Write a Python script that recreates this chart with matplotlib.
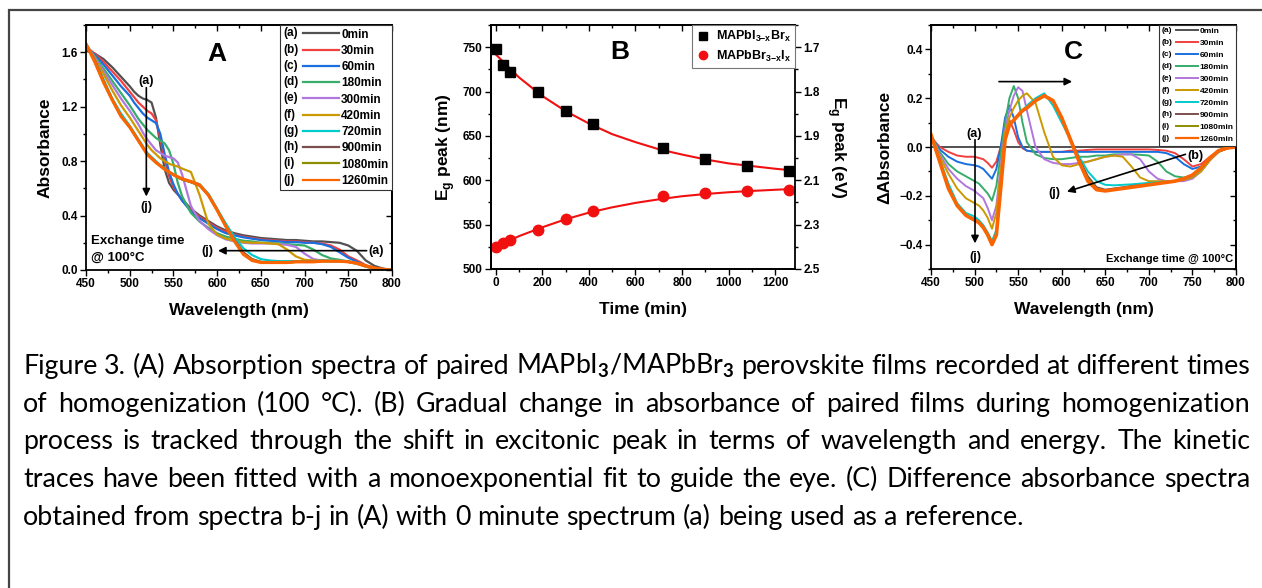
import numpy as np
import matplotlib
matplotlib.use("Agg")
import matplotlib.pyplot as plt
from matplotlib.legend_handler import HandlerLine2D
from matplotlib.lines import Line2D
from matplotlib.text import Text
from matplotlib.patches import Rectangle
from matplotlib.ticker import MultipleLocator

plt.rcParams['font.family'] = ['Liberation Sans', 'DejaVu Sans']
plt.rcParams['font.weight'] = 'bold'
plt.rcParams['axes.labelweight'] = 'bold'
plt.rcParams['mathtext.fontset'] = 'custom'
plt.rcParams['mathtext.rm'] = 'Lato'
plt.rcParams['mathtext.bf'] = 'Liberation Sans:bold'

# ---------------- data ----------------
wl = [450, 460, 470, 480, 490, 500, 505, 510, 515, 520, 525, 530, 535, 540, 545, 550, 555, 560,
      570, 580, 590, 600, 610, 620, 630, 640, 650, 660, 670, 680, 690, 700, 710, 720, 730, 740,
      750, 760, 770, 780, 790, 800]

# panel A: absorbance
abs_a = [1.61, 1.59, 1.55, 1.49, 1.42, 1.35, 1.31, 1.28, 1.26, 1.25, 1.23, 1.12, 0.92, 0.74, 0.64, 0.59, 0.555, 0.52,
         0.45, 0.40, 0.36, 0.32, 0.29, 0.27, 0.255, 0.245, 0.235, 0.23, 0.225, 0.22, 0.22, 0.215, 0.21, 0.21, 0.205, 0.20,
         0.18, 0.14, 0.07, 0.03, 0.01, 0.0]
abs_b = [1.64, 1.59, 1.53, 1.46, 1.39, 1.31, 1.27, 1.23, 1.20, 1.17, 1.15, 1.10, 0.97, 0.81, 0.69, 0.61, 0.56, 0.51,
         0.44, 0.39, 0.35, 0.31, 0.28, 0.26, 0.245, 0.235, 0.225, 0.22, 0.215, 0.21, 0.21, 0.205, 0.20, 0.195, 0.18, 0.15,
         0.10, 0.07, 0.035, 0.015, 0.005, 0.0]
abs_c = [1.64, 1.58, 1.51, 1.43, 1.35, 1.28, 1.23, 1.19, 1.15, 1.12, 1.10, 1.08, 1.00, 0.85, 0.72, 0.63, 0.56, 0.51,
         0.43, 0.38, 0.34, 0.30, 0.27, 0.255, 0.24, 0.23, 0.22, 0.215, 0.21, 0.205, 0.205, 0.20, 0.20, 0.19, 0.17, 0.13,
         0.09, 0.06, 0.03, 0.012, 0.004, 0.0]
abs_d = [1.65, 1.57, 1.48, 1.39, 1.30, 1.21, 1.16, 1.11, 1.07, 1.03, 1.00, 0.97, 0.95, 0.93, 0.88, 0.78, 0.64, 0.54,
         0.42, 0.355, 0.31, 0.27, 0.245, 0.23, 0.215, 0.21, 0.20, 0.20, 0.195, 0.19, 0.185, 0.18, 0.15, 0.11, 0.085, 0.075,
         0.06, 0.05, 0.025, 0.01, 0.003, 0.0]
abs_e = [1.66, 1.56, 1.46, 1.36, 1.26, 1.17, 1.12, 1.07, 1.01, 0.96, 0.92, 0.88, 0.86, 0.84, 0.83, 0.82, 0.79, 0.70,
         0.47, 0.36, 0.30, 0.255, 0.225, 0.21, 0.20, 0.195, 0.195, 0.195, 0.19, 0.185, 0.17, 0.12, 0.08, 0.07, 0.065, 0.065,
         0.06, 0.045, 0.025, 0.01, 0.003, 0.0]
abs_f = [1.66, 1.55, 1.44, 1.32, 1.21, 1.12, 1.07, 1.02, 0.97, 0.92, 0.88, 0.85, 0.82, 0.80, 0.78, 0.77, 0.76, 0.745,
         0.72, 0.55, 0.34, 0.26, 0.23, 0.215, 0.205, 0.20, 0.20, 0.195, 0.19, 0.15, 0.10, 0.075, 0.07, 0.07, 0.065, 0.065,
         0.06, 0.045, 0.025, 0.01, 0.003, 0.0]
abs_g = [1.66, 1.54, 1.40, 1.26, 1.15, 1.06, 1.01, 0.96, 0.91, 0.86, 0.83, 0.80, 0.77, 0.75, 0.72, 0.70, 0.68, 0.67,
         0.65, 0.63, 0.56, 0.45, 0.34, 0.24, 0.16, 0.11, 0.08, 0.07, 0.065, 0.065, 0.065, 0.065, 0.065, 0.07, 0.07, 0.07,
         0.065, 0.05, 0.03, 0.015, 0.005, 0.0]
abs_h = [1.66, 1.54, 1.39, 1.25, 1.13, 1.05, 1.00, 0.95, 0.90, 0.855, 0.82, 0.79, 0.765, 0.74, 0.72, 0.70, 0.68, 0.665,
         0.645, 0.62, 0.55, 0.44, 0.32, 0.22, 0.13, 0.08, 0.06, 0.055, 0.055, 0.055, 0.06, 0.06, 0.06, 0.065, 0.065, 0.065,
         0.06, 0.05, 0.03, 0.015, 0.005, 0.0]
abs_i = [1.66, 1.53, 1.38, 1.25, 1.13, 1.05, 1.00, 0.95, 0.90, 0.85, 0.82, 0.79, 0.765, 0.74, 0.72, 0.70, 0.68, 0.665,
         0.645, 0.62, 0.55, 0.44, 0.32, 0.215, 0.12, 0.075, 0.058, 0.055, 0.055, 0.055, 0.06, 0.06, 0.06, 0.065, 0.065, 0.065,
         0.06, 0.05, 0.03, 0.015, 0.005, 0.0]
abs_j = [1.66, 1.53, 1.38, 1.25, 1.13, 1.05, 1.00, 0.95, 0.90, 0.85, 0.82, 0.79, 0.765, 0.74, 0.72, 0.70, 0.685, 0.67,
         0.65, 0.625, 0.55, 0.44, 0.32, 0.21, 0.115, 0.07, 0.055, 0.055, 0.055, 0.055, 0.06, 0.06, 0.06, 0.065, 0.065, 0.065,
         0.06, 0.05, 0.03, 0.015, 0.005, 0.0]

# panel C: difference absorbance (reference = 0 min)
diff_a = [0.0] * len(wl)
diff_b = [0.04, 0.0, -0.02, -0.035, -0.04, -0.04, -0.045, -0.05, -0.065, -0.085, -0.06, 0.0, 0.08, 0.11, 0.07, 0.02, -0.005, -0.015,
          -0.02, -0.02, -0.02, -0.02, -0.015, -0.015, -0.012, -0.01, -0.01, -0.01, -0.01, -0.01, -0.01, -0.01, -0.012, -0.015, -0.025, -0.05,
          -0.08, -0.07, -0.04, -0.018, -0.005, 0.0]
diff_c = [0.045, -0.01, -0.04, -0.06, -0.07, -0.075, -0.08, -0.09, -0.11, -0.13, -0.09, 0.0, 0.12, 0.17, 0.12, 0.04, 0.0, -0.015,
          -0.02, -0.02, -0.02, -0.02, -0.02, -0.02, -0.02, -0.02, -0.02, -0.02, -0.02, -0.02, -0.02, -0.02, -0.02, -0.025, -0.04, -0.07,
          -0.09, -0.08, -0.045, -0.02, -0.005, 0.0]
diff_d = [0.05, -0.02, -0.07, -0.10, -0.12, -0.14, -0.15, -0.17, -0.19, -0.22, -0.16, -0.03, 0.10, 0.20, 0.25, 0.20, 0.10, 0.02,
          -0.03, -0.045, -0.05, -0.05, -0.045, -0.04, -0.04, -0.035, -0.035, -0.03, -0.03, -0.03, -0.032, -0.035, -0.06, -0.10, -0.12, -0.125,
          -0.12, -0.09, -0.05, -0.02, -0.005, 0.0]
diff_e = [0.05, -0.03, -0.09, -0.13, -0.16, -0.18, -0.195, -0.21, -0.25, -0.30, -0.24, -0.08, 0.07, 0.15, 0.21, 0.245, 0.23, 0.15,
          0.0, -0.05, -0.065, -0.07, -0.07, -0.065, -0.06, -0.05, -0.04, -0.035, -0.03, -0.03, -0.05, -0.10, -0.13, -0.14, -0.14, -0.14,
          -0.13, -0.10, -0.055, -0.02, -0.005, 0.0]
diff_f = [0.05, -0.04, -0.11, -0.17, -0.21, -0.23, -0.24, -0.26, -0.29, -0.335, -0.27, -0.10, 0.06, 0.12, 0.16, 0.19, 0.21, 0.22,
          0.18, 0.06, -0.04, -0.075, -0.08, -0.07, -0.06, -0.05, -0.04, -0.035, -0.04, -0.08, -0.125, -0.14, -0.14, -0.14, -0.14, -0.135,
          -0.125, -0.10, -0.055, -0.02, -0.005, 0.0]
diff_g = [0.05, -0.05, -0.15, -0.23, -0.27, -0.285, -0.30, -0.32, -0.35, -0.385, -0.34, -0.15, 0.03, 0.09, 0.11, 0.13, 0.15, 0.17,
          0.20, 0.22, 0.17, 0.10, 0.03, -0.04, -0.10, -0.14, -0.155, -0.157, -0.155, -0.153, -0.15, -0.147, -0.145, -0.142, -0.138, -0.132,
          -0.12, -0.09, -0.05, -0.018, -0.004, 0.0]
diff_h = [0.05, -0.06, -0.165, -0.24, -0.28, -0.295, -0.31, -0.33, -0.36, -0.395, -0.36, -0.17, 0.03, 0.09, 0.11, 0.13, 0.145, 0.16,
          0.19, 0.21, 0.19, 0.12, 0.035, -0.05, -0.12, -0.165, -0.175, -0.17, -0.165, -0.16, -0.157, -0.153, -0.15, -0.145, -0.14, -0.13,
          -0.117, -0.087, -0.045, -0.016, -0.004, 0.0]
diff_i = [0.05, -0.06, -0.17, -0.24, -0.28, -0.30, -0.31, -0.33, -0.36, -0.40, -0.36, -0.17, 0.03, 0.09, 0.11, 0.13, 0.15, 0.16,
          0.19, 0.21, 0.19, 0.12, 0.03, -0.055, -0.13, -0.17, -0.178, -0.174, -0.168, -0.163, -0.158, -0.154, -0.15, -0.145, -0.14, -0.13,
          -0.115, -0.085, -0.045, -0.015, -0.004, 0.0]
diff_j = [0.05, -0.06, -0.17, -0.24, -0.28, -0.30, -0.31, -0.33, -0.36, -0.40, -0.36, -0.17, 0.03, 0.09, 0.11, 0.13, 0.15, 0.16,
          0.19, 0.21, 0.19, 0.12, 0.03, -0.06, -0.14, -0.175, -0.18, -0.175, -0.17, -0.165, -0.16, -0.155, -0.15, -0.145, -0.14, -0.13,
          -0.115, -0.085, -0.045, -0.015, -0.004, 0.0]

tags = ['(a)', '(b)', '(c)', '(d)', '(e)', '(f)', '(g)', '(h)', '(i)', '(j)']
time_labels = ['0min', '30min', '60min', '180min', '300min', '420min', '720min', '900min', '1080min', '1260min']
colors = ['#515151', '#F14040', '#1A6FDF', '#37AD6B', '#B177DE', '#CC9900', '#00CBCC', '#7D4E4E', '#8E8E00', '#FB6501']

# panel B
t_min = [0, 30, 60, 180, 300, 420, 720, 900, 1080, 1260]
peak_iodide = [747.5, 730, 721.5, 699, 678, 663, 636.5, 624, 616, 610]
peak_bromide = [524.5, 529, 533, 544, 556, 565, 582, 586, 588, 589.5]
fit_t = [0, 100, 200, 300, 400, 500, 600, 700, 800, 900, 1000, 1100, 1200, 1260]
fit_iodide = [742, 716, 695, 678, 664, 652, 643, 635, 629, 623.5, 619, 616, 613, 611.5]
fit_bromide = [525, 537, 547, 556, 563.5, 569.5, 574.5, 578.5, 582, 584.5, 586.5, 588, 589.3, 590]
ev_ticks = [750, 700, 650, 600, 550, 500]
ev_labels = ['1.7', '1.8', '1.9', '2.1', '2.3', '2.5']

caption = [
    "Figure 3. (A) Absorption spectra of paired MAPbI$_\\mathrm{3}$/MAPbBr$_\\mathrm{3}$ perovskite films recorded at different times",
    "of homogenization (100 \u00b0C). (B) Gradual change in absorbance of paired films during homogenization",
    "process is tracked through the shift in excitonic peak in terms of wavelength and energy.  The kinetic",
    "traces have been fitted with a monoexponential fit to guide the eye. (C) Difference absorbance spectra",
    "obtained from spectra b-j in (A) with 0 minute spectrum (a) being used as a reference.",
]

W, H = 1262, 588
fig = plt.figure(figsize=(W / 100, H / 100), dpi=100)
fig.patch.set_facecolor('white')


def px_axes(l, t, r, b):
    return fig.add_axes([l / W, 1 - b / H, (r - l) / W, (b - t) / H])


class TagHandler(HandlerLine2D):
    def __init__(self, tag, tagw, **kw):
        super().__init__(**kw)
        self.tag = tag
        self.tagw = tagw

    def create_artists(self, legend, orig_handle, xdescent, ydescent, width, height, fontsize, trans):
        y = (height - ydescent) / 2
        x0 = -xdescent
        txt = Text(x0, y, self.tag, fontsize=fontsize, fontweight='bold', va='center', ha='left')
        txt.set_transform(trans)
        ln = Line2D([x0 + self.tagw * fontsize, x0 + width], [y, y],
                    color=orig_handle.get_color(), lw=min(orig_handle.get_linewidth(), 1.6))
        ln.set_transform(trans)
        return [txt, ln]


def style(ax, xmaj, xmin, ymaj, ymin, right=True, fs=8.5):
    ax.xaxis.set_major_locator(MultipleLocator(xmaj))
    ax.xaxis.set_minor_locator(MultipleLocator(xmin))
    ax.yaxis.set_major_locator(MultipleLocator(ymaj))
    ax.yaxis.set_minor_locator(MultipleLocator(ymin))
    ax.tick_params(which='both', direction='out', labelsize=fs, width=1.0, pad=2)
    ax.tick_params(which='major', length=4)
    ax.tick_params(which='minor', length=2.5)
    for s in ax.spines.values():
        s.set_linewidth(1.3)
    top = ax.secondary_xaxis('top')
    top.xaxis.set_major_locator(MultipleLocator(xmaj))
    top.xaxis.set_minor_locator(MultipleLocator(xmin))
    top.tick_params(which='both', direction='in', labeltop=False, width=1.0)
    top.tick_params(which='major', length=4)
    top.tick_params(which='minor', length=2.5)
    top.spines['top'].set_linewidth(1.3)
    if right:
        rgt = ax.secondary_yaxis('right')
        rgt.yaxis.set_major_locator(MultipleLocator(ymaj))
        rgt.yaxis.set_minor_locator(MultipleLocator(ymin))
        rgt.tick_params(which='both', direction='in', labelright=False, width=1.0)
        rgt.tick_params(which='major', length=4)
        rgt.tick_params(which='minor', length=2.5)
        rgt.spines['right'].set_linewidth(1.3)


arrow = dict(arrowstyle='-|>', color='black', lw=1.2, mutation_scale=11, shrinkA=0, shrinkB=0)

# ---------------- panel A ----------------
axA = px_axes(86, 25, 392, 270)
spectra = [abs_a, abs_b, abs_c, abs_d, abs_e, abs_f, abs_g, abs_h, abs_i, abs_j]
linesA = []
for k, s in enumerate(spectra):
    ln, = axA.plot(wl, s, color=colors[k], lw=2.3 if k == 9 else 1.6)
    linesA.append(ln)
axA.set_xlim(450, 800)
axA.set_ylim(0, 1.8)
style(axA, 50, 25, 0.4, 0.2)
axA.set_xlabel('Wavelength (nm)', fontsize=12.5, labelpad=9)
axA.set_ylabel('Absorbance', fontsize=12.5, labelpad=6)
axA.text(0.428, 0.882, 'A', transform=axA.transAxes, fontsize=19, ha='center', va='center')
legA = axA.legend(linesA, time_labels, loc='upper right', borderaxespad=0, fontsize=8.5,
                  handler_map={ln: TagHandler(tg, 1.7) for ln, tg in zip(linesA, tags)},
                  handlelength=4.7, handletextpad=0.2, labelspacing=0.36, borderpad=0.3,
                  fancybox=False, edgecolor='#333333', framealpha=1)
legA.get_frame().set_linewidth(0.8)
axA.annotate('', xy=(519, 0.54), xytext=(519, 1.34), arrowprops=arrow)
axA.text(519, 1.39, '(a)', fontsize=9, ha='center', va='center')
axA.text(519, 0.465, '(j)', fontsize=9, ha='center', va='center')
axA.annotate('', xy=(601, 0.142), xytext=(771, 0.142), arrowprops=arrow)
axA.text(773, 0.142, '(a)', fontsize=9, ha='left', va='center')
axA.text(596, 0.142, '(j)', fontsize=9, ha='right', va='center')
axA.text(456, 0.216, 'Exchange time', fontsize=9.5, ha='left', va='center')
axA.text(456, 0.086, '@ 100\u00b0C', fontsize=9.5, ha='left', va='center')

# ---------------- panel B ----------------
axB = px_axes(491, 25, 795, 269)
axB.plot(fit_t, fit_iodide, color='#F11010', lw=1.5, zorder=2)
axB.plot(fit_t, fit_bromide, color='#F11010', lw=1.5, zorder=2)
sq, = axB.plot(t_min, peak_iodide, 's', color='black', ms=6.5, ls='none', zorder=3)
ci, = axB.plot(t_min, peak_bromide, 'o', color='#F11010', ms=7.5, ls='none', zorder=3)
axB.set_xlim(-20, 1285)
axB.set_ylim(500, 775)
style(axB, 200, 100, 50, 25, right=False)
axB.spines['right'].set_visible(False)
axB.set_xlabel('Time (min)', fontsize=12.5, labelpad=9)
axB.set_ylabel('E$_\\mathbf{g}$ peak (nm)', fontsize=12.5, labelpad=4)
axB2 = axB.twinx()
axB2.set_ylim(500, 775)
axB2.set_yticks(ev_ticks, ev_labels)
axB2.yaxis.set_minor_locator(MultipleLocator(25))
axB2.tick_params(which='both', direction='out', labelsize=8.5, width=1.0, pad=2)
axB2.tick_params(which='major', length=4)
axB2.tick_params(which='minor', length=2.5)
for s in axB2.spines.values():
    s.set_linewidth(1.3)
axB2.set_ylabel('E$_\\mathbf{g}$ peak (eV)', fontsize=12.5, rotation=270, va='bottom', labelpad=4)
axB2.text(0.424, 0.889, 'B', transform=axB2.transAxes, fontsize=19, ha='center', va='center')
legB = axB2.legend([sq, ci], ['MAPbI$_\\mathbf{3{-}x}$Br$_\\mathbf{x}$', 'MAPbBr$_\\mathbf{3{-}x}$I$_\\mathbf{x}$'],
                   loc='upper right', borderaxespad=0, fontsize=9, handlelength=1.0, handletextpad=0.5,
                   labelspacing=0.35, borderpad=0.35, fancybox=False, edgecolor='#777777', framealpha=1,
                   markerscale=0.8)
legB.get_frame().set_linewidth(0.8)

# ---------------- panel C ----------------
axC = px_axes(931, 25, 1236, 269)
diffs = [diff_a, diff_b, diff_c, diff_d, diff_e, diff_f, diff_g, diff_h, diff_i, diff_j]
linesC = []
for k, s in enumerate(diffs):
    ln, = axC.plot(wl, s, color=colors[k], lw=2.6 if k == 9 else 1.4)
    linesC.append(ln)
axC.set_xlim(450, 800)
axC.set_ylim(-0.5, 0.5)
style(axC, 50, 25, 0.2, 0.1)
axC.set_xlabel('Wavelength (nm)', fontsize=12.5, labelpad=9)
axC.set_ylabel('\u0394Absorbance', fontsize=12.5, labelpad=5)
axC.text(0.466, 0.889, 'C', transform=axC.transAxes, fontsize=19, ha='center', va='center')
legC = axC.legend(linesC, time_labels, loc='upper right', borderaxespad=0, fontsize=6.0,
                  handler_map={ln: TagHandler(tg, 1.8) for ln, tg in zip(linesC, tags)},
                  handlelength=4.4, handletextpad=0.2, labelspacing=0.5, borderpad=0.3,
                  fancybox=False, edgecolor='#333333', framealpha=1)
legC.get_frame().set_linewidth(0.8)
axC.annotate('', xy=(612, 0.268), xytext=(528, 0.268), arrowprops=arrow)
axC.text(499, 0.053, '(a)', fontsize=9, ha='center', va='center')
axC.annotate('', xy=(500.5, -0.395), xytext=(500.5, 0.03), arrowprops=arrow)
axC.text(500.5, -0.45, '(j)', fontsize=9, ha='center', va='center')
axC.text(753, -0.035, '(b)', fontsize=9, ha='center', va='center')
axC.annotate('', xy=(606, -0.183), xytext=(742, -0.03), arrowprops=arrow)
axC.text(592, -0.187, '(j)', fontsize=9, ha='center', va='center')
axC.text(797, -0.457, 'Exchange time @ 100\u00b0C', fontsize=8, ha='right', va='center')

# ---------------- outer frame ----------------
fig.add_artist(Rectangle((9 / W, -0.2), 1.2, 1.2 - 10 / H, transform=fig.transFigure,
                         fill=False, edgecolor='#444444', lw=1.6))

# ---------------- caption (justified) ----------------
fig.canvas.draw()
renderer = fig.canvas.get_renderer()
cap_kw = dict(family=['Lato', 'DejaVu Sans'], fontweight='normal', va='baseline', ha='left')
left_px, right_px = 23, 1250
base_px = [374, 411.7, 449.4, 487.1, 524.8]


def measure(s, size):
    t = fig.text(0, 0, s, fontsize=size, **cap_kw)
    w = t.get_window_extent(renderer).width
    t.remove()
    return w


size = 18.0
space = measure('n n', size) - measure('nn', size)
natural = max(sum(measure(w, size) for w in line.split()) + space * (len(line.split()) - 1)
              for line in caption[:4])
size = size * (right_px - left_px) / natural * 0.995
space = measure('n n', size) - measure('nn', size)

for n, line in enumerate(caption):
    words = line.split()
    arts = [fig.text(0, 0, w, fontsize=size, **cap_kw) for w in words]
    widths = [a.get_window_extent(renderer).width for a in arts]
    if n < 4:
        gap = (right_px - left_px - sum(widths)) / (len(words) - 1)
    else:
        gap = space
    x = left_px
    for a, w in zip(arts, widths):
        a.set_position((x / W, 1 - base_px[n] / H))
        x += w + gap

fig.savefig('out.png', dpi=100, facecolor='white')
